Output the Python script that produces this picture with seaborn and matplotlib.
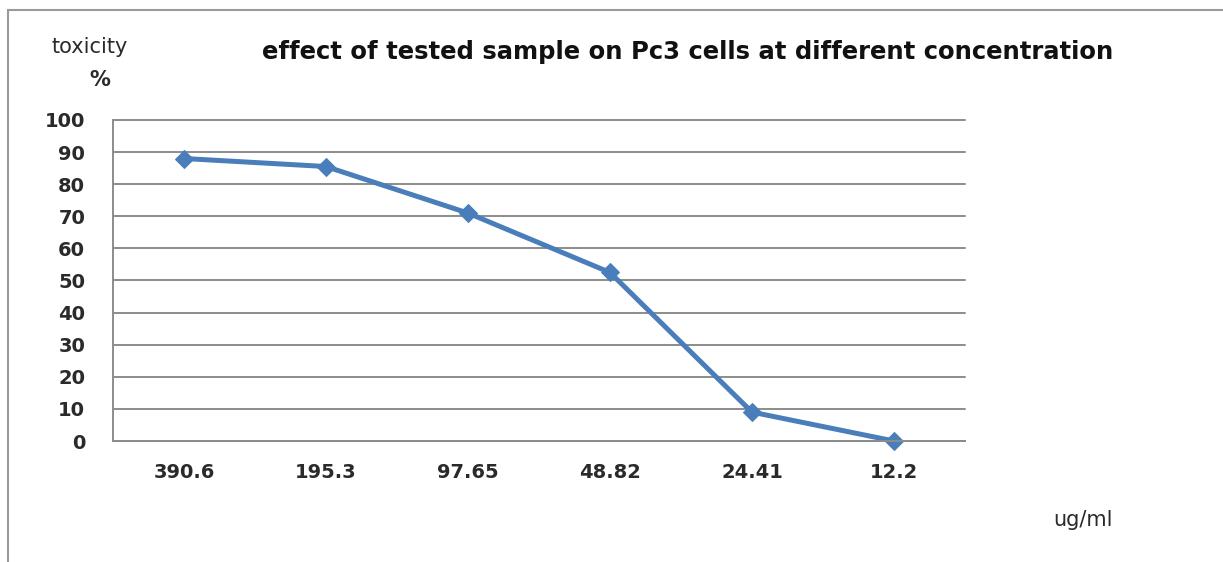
import pandas as pd
import seaborn as sns
import matplotlib.pyplot as plt
from matplotlib.patches import Rectangle
from matplotlib.ticker import FixedLocator, NullFormatter

# 농도별 독성 데이터
conc_labels = ['390.6', '195.3', '97.65', '48.82', '24.41', '12.2']
toxicity = [88, 85.5, 71, 52.5, 9, 0]

sns.set_style('white')
plt.rcParams['font.family'] = ['DejaVu Sans']

df = pd.DataFrame({'conc': conc_labels, 'tox': toxicity})

fig = plt.figure(figsize=(12.23, 5.62), dpi=100)
ax = fig.add_axes([0.0924, 0.2153, 0.6966, 0.5712])

grid_c = '#8c8c8c'
sns.lineplot(x='conc', y='tox', data=df, ax=ax, sort=False, color='#4a7ebb',
             linewidth=3.6, marker='D', markersize=9, markeredgecolor='#4a7ebb')
ax.lines[0].set_clip_on(False)

ax.set_xlim(-0.5, 5.5)
ax.set_ylim(0, 100)
ax.set_yticks(range(0, 101, 10))
ax.yaxis.grid(True, color=grid_c, linewidth=1.4)
ax.set_axisbelow(True)
for gl in ax.get_ygridlines():
    gl.set_clip_on(False)

# 카테고리 경계에 눈금
ax.xaxis.set_minor_locator(FixedLocator([i - 0.5 for i in range(len(conc_labels) + 1)]))
ax.xaxis.set_minor_formatter(NullFormatter())
ax.tick_params(axis='x', which='major', length=0, pad=16, labelsize=14)
ax.tick_params(axis='x', which='minor', length=6, width=1.4, color=grid_c, direction='out')
ax.tick_params(axis='y', length=9, width=1.4, color=grid_c, direction='out', pad=11, labelsize=14)
for lab in ax.get_xticklabels() + ax.get_yticklabels():
    lab.set_fontweight('bold')
    lab.set_color('#2a2a2a')

for s in ['top', 'right']:
    ax.spines[s].set_visible(False)
for s in ['left', 'bottom']:
    ax.spines[s].set_color(grid_c)
    ax.spines[s].set_linewidth(1.4)

ax.set_xlabel('')
ax.set_ylabel('')

fig.text(0.5625, 0.907, 'effect of tested sample on Pc3 cells at different concentration',
         ha='center', va='center', fontsize=17.5, fontweight='bold', color='#111111')
fig.text(0.0736, 0.916, 'toxicity', ha='center', va='center', fontsize=15, color='#2a2a2a')
fig.text(0.0818, 0.858, '%', ha='center', va='center', fontsize=15, fontweight='bold', color='#2a2a2a')
fig.text(0.8855, 0.075, 'ug/ml', ha='center', va='center', fontsize=15, color='#2a2a2a')

# 바깥 테두리
fig.patches.append(Rectangle((8 / 1223, -0.01), 1.02, 1 - 10 / 562 + 0.01, transform=fig.transFigure,
                             fill=False, edgecolor='#9a9a9a', linewidth=1.5))

fig.savefig('out.png', dpi=100)
